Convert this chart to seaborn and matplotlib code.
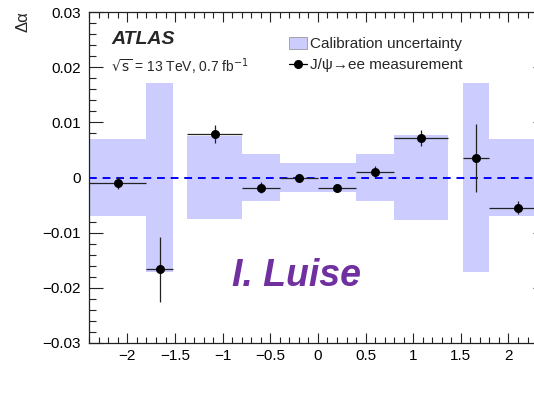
import numpy as np
import pandas as pd
import matplotlib
matplotlib.use("Agg")
import matplotlib.pyplot as plt
from matplotlib.ticker import MultipleLocator
from matplotlib.patches import Patch
from matplotlib.lines import Line2D
import seaborn as sns

# Calibration uncertainty band (eta bin edges and half-widths)
band_lo = [-2.4, -1.8, -1.37, -0.8, -0.4, 0.4, 0.8, 1.52, 1.8]
band_hi = [-1.8, -1.52, -0.8, -0.4, 0.4, 0.8, 1.37, 1.8, 2.4]
band_err = [0.0070, 0.0172, 0.0076, 0.0042, 0.0026, 0.0043, 0.0077, 0.0172, 0.0070]

# J/psi -> ee measurement
meas_lo = [-2.4, -1.8, -1.37, -0.8, -0.4, 0.0, 0.4, 0.8, 1.52, 1.8]
meas_hi = [-1.8, -1.52, -0.8, -0.4, 0.0, 0.4, 0.8, 1.37, 1.8, 2.4]
meas_val = [-0.00094, -0.0166, 0.0079, -0.0019, -0.00015, -0.00185, 0.00105, 0.0072, 0.0035, -0.0055]
meas_err = [0.0011, 0.0059, 0.0016, 0.0010, 0.0007, 0.0005, 0.0010, 0.0015, 0.0062, 0.0012]

sns.set_style("ticks")
plt.rcParams['font.family'] = ['Liberation Sans', 'DejaVu Sans']
plt.rcParams['axes.unicode_minus'] = True

fig = plt.figure(figsize=(5.34, 3.94), dpi=100)
W, H = 534, 394
ax = fig.add_axes([89.3 / W, 51 / H, (546.6 - 89.3) / W, (343 - 12) / H])

band_df = pd.DataFrame({"lo": band_lo, "hi": band_hi, "err": band_err})
ax.bar(band_df["lo"], 2 * band_df["err"], width=band_df["hi"] - band_df["lo"],
       bottom=-band_df["err"], align="edge", color="#ccccff", edgecolor="none", zorder=1)

ax.axhline(0, color="#0000ff", lw=1.4, ls=(0, (4, 3)), zorder=2)

meas_df = pd.DataFrame({"lo": meas_lo, "hi": meas_hi, "val": meas_val, "err": meas_err})
meas_df["x"] = 0.5 * (meas_df["lo"] + meas_df["hi"])
meas_df["xerr"] = 0.5 * (meas_df["hi"] - meas_df["lo"])
ax.errorbar(meas_df["x"], meas_df["val"], xerr=meas_df["xerr"], yerr=meas_df["err"],
            fmt="none", ecolor="#222222", elinewidth=0.9, capsize=0, zorder=3)
sns.scatterplot(data=meas_df, x="x", y="val", ax=ax, color="black", s=42,
                edgecolor="black", linewidth=0, zorder=4, legend=False)

ax.set_xlim(-2.4, 2.4)
ax.set_ylim(-0.03, 0.03)
ax.set_xlabel("")
ax.set_ylabel("")
ax.xaxis.set_minor_locator(MultipleLocator(0.1))
ax.yaxis.set_minor_locator(MultipleLocator(0.002))
ax.set_xticks([-2, -1.5, -1, -0.5, 0, 0.5, 1, 1.5, 2])
ax.set_xticklabels(["\u22122", "\u22121.5", "\u22121", "\u22120.5", "0", "0.5", "1", "1.5", "2"])
ax.set_yticks([-0.03, -0.02, -0.01, 0, 0.01, 0.02, 0.03])
ax.set_yticklabels(["\u22120.03", "\u22120.02", "\u22120.01", "0", "0.01", "0.02", "0.03"])
ax.tick_params(which="both", direction="in", top=True, right=True, width=0.8, color="#222222",
               labelsize=11, labelcolor="black")
ax.tick_params(axis="y", which="major", length=10, pad=6)
ax.tick_params(axis="y", which="minor", length=5)
ax.tick_params(axis="x", which="major", length=7.5, pad=4.5)
ax.tick_params(axis="x", which="minor", length=4)
for s in ax.spines.values():
    s.set_linewidth(0.9)
    s.set_color("#222222")

# texts
fig.text(23 / W, 1 - 22 / H, "\u0394\u03b1", rotation=90, ha="center", va="center", fontsize=12)
fig.text(111 / W, 1 - 39 / H, "ATLAS", fontsize=14, fontweight="bold", fontstyle="italic",
         ha="left", va="center")
fig.text(111 / W, 1 - 67 / H, r"$\sqrt{\mathrm{s}}$ = 13 TeV, 0.7 fb$^{-1}$", fontsize=10,
         ha="left", va="center")
fig.text(297 / W, 1 - 276 / H, "I. Luise", fontsize=27, fontweight="bold", fontstyle="italic",
         color="#7030a0", ha="center", va="center")

handles = [Patch(facecolor="#ccccff", edgecolor="#888888", linewidth=0.5),
           Line2D([0], [0], color="black", marker="o", markersize=5.5, lw=0.9)]
leg = fig.legend(handles, ["Calibration uncertainty", "J/\u03c8\u2192ee measurement"],
                 loc="upper left", bbox_to_anchor=(289 / W, 1 - 37 / H), frameon=False,
                 fontsize=11, handlelength=1.2, handleheight=0.8, handletextpad=0.2,
                 labelspacing=0.45, borderaxespad=0, borderpad=0)

fig.savefig("out.png", dpi=100)
